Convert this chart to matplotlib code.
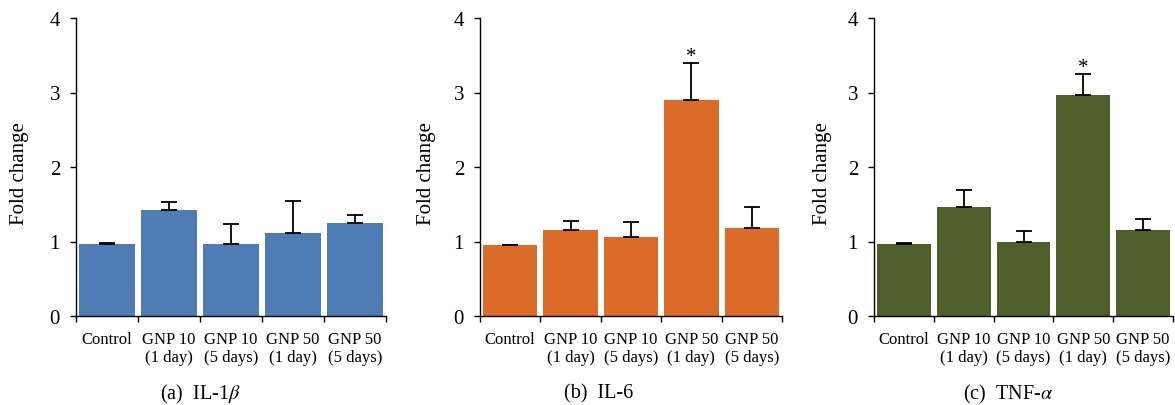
import matplotlib
matplotlib.use("Agg")
import matplotlib.pyplot as plt
import numpy as np

categories = ["Control", "GNP 10\n(1 day)", "GNP 10\n(5 days)", "GNP 50\n(1 day)", "GNP 50\n(5 days)"]

il1b_values = [0.97, 1.42, 0.97, 1.11, 1.25]
il1b_err = [0.015, 0.11, 0.26, 0.43, 0.11]

il6_values = [0.95, 1.15, 1.06, 2.90, 1.18]
il6_err = [0.005, 0.13, 0.20, 0.49, 0.28]

tnfa_values = [0.96, 1.46, 1.00, 2.97, 1.15]
tnfa_err = [0.015, 0.23, 0.14, 0.28, 0.15]

il6_sig = [False, False, False, True, False]
il1b_sig = [False] * 5
tnfa_sig = [False, False, False, True, False]

captions = ["(a)  IL-1$\\beta$", "(b)  IL-6", "(c)  TNF-$\\alpha$"]
colors = ["#4F7CB4", "#DB6B28", "#4E5F2C"]

plt.rcParams["font.family"] = ["Liberation Serif", "DejaVu Serif"]
plt.rcParams["mathtext.fontset"] = "stix"

W, H = 1175, 406
fig = plt.figure(figsize=(W / 100, H / 100), dpi=100)

# axes pixel boxes: left, right, top, bottom
boxes = [(76, 386, 19, 317), (480, 782, 19, 317), (874, 1173, 19, 317)]
ylabel_x = [20, 426, 822]
caption_x = [200, 599, 1008]

series = [(il1b_values, il1b_err, il1b_sig), (il6_values, il6_err, il6_sig), (tnfa_values, tnfa_err, tnfa_sig)]

for i, ((vals, errs, sig), box) in enumerate(zip(series, boxes)):
    l, r, t, b = box
    ax = fig.add_axes([l / W, 1 - b / H, (r - l) / W, (b - t) / H])
    x = np.arange(len(categories))
    ax.bar(x, vals, width=0.9, color=colors[i], edgecolor="none", zorder=2)
    ax.errorbar(x, vals, yerr=[np.zeros(len(vals)), errs], fmt="none",
                ecolor="black", elinewidth=1.3, capsize=5.8, capthick=1.3, zorder=3)
    for xi, v, e, s in zip(x, vals, errs, sig):
        if s:
            ax.annotate("*", xy=(xi, v + e), xytext=(0, -2), textcoords="offset points",
                        ha="center", va="bottom", fontsize=15)
    ax.set_xlim(-0.5, len(categories) - 0.5)
    ax.set_ylim(0, 4)
    ax.set_yticks([0, 1, 2, 3, 4])
    ax.tick_params(axis="y", direction="out", length=4.5, width=1.0, labelsize=15, pad=7)
    ax.set_xticks(np.arange(len(categories) + 1) - 0.5)
    ax.set_xticklabels([])
    ax.set_xticks(x, minor=True)
    ax.set_xticklabels(categories, minor=True, fontsize=12, linespacing=1.12)
    ax.tick_params(axis="x", which="major", direction="out", length=4, width=1.0)
    ax.tick_params(axis="x", which="minor", length=0, pad=11)
    for s in ["top", "right"]:
        ax.spines[s].set_visible(False)
    for s in ["left", "bottom"]:
        ax.spines[s].set_linewidth(1.0)
    fig.text(ylabel_x[i] / W, 1 - 174 / H, "Fold change", rotation=90,
             ha="center", va="center", fontsize=15)
    fig.text(caption_x[i] / W, 1 - 394 / H, captions[i], ha="center", va="center", fontsize=14.5)

fig.savefig("out.png", dpi=100)
